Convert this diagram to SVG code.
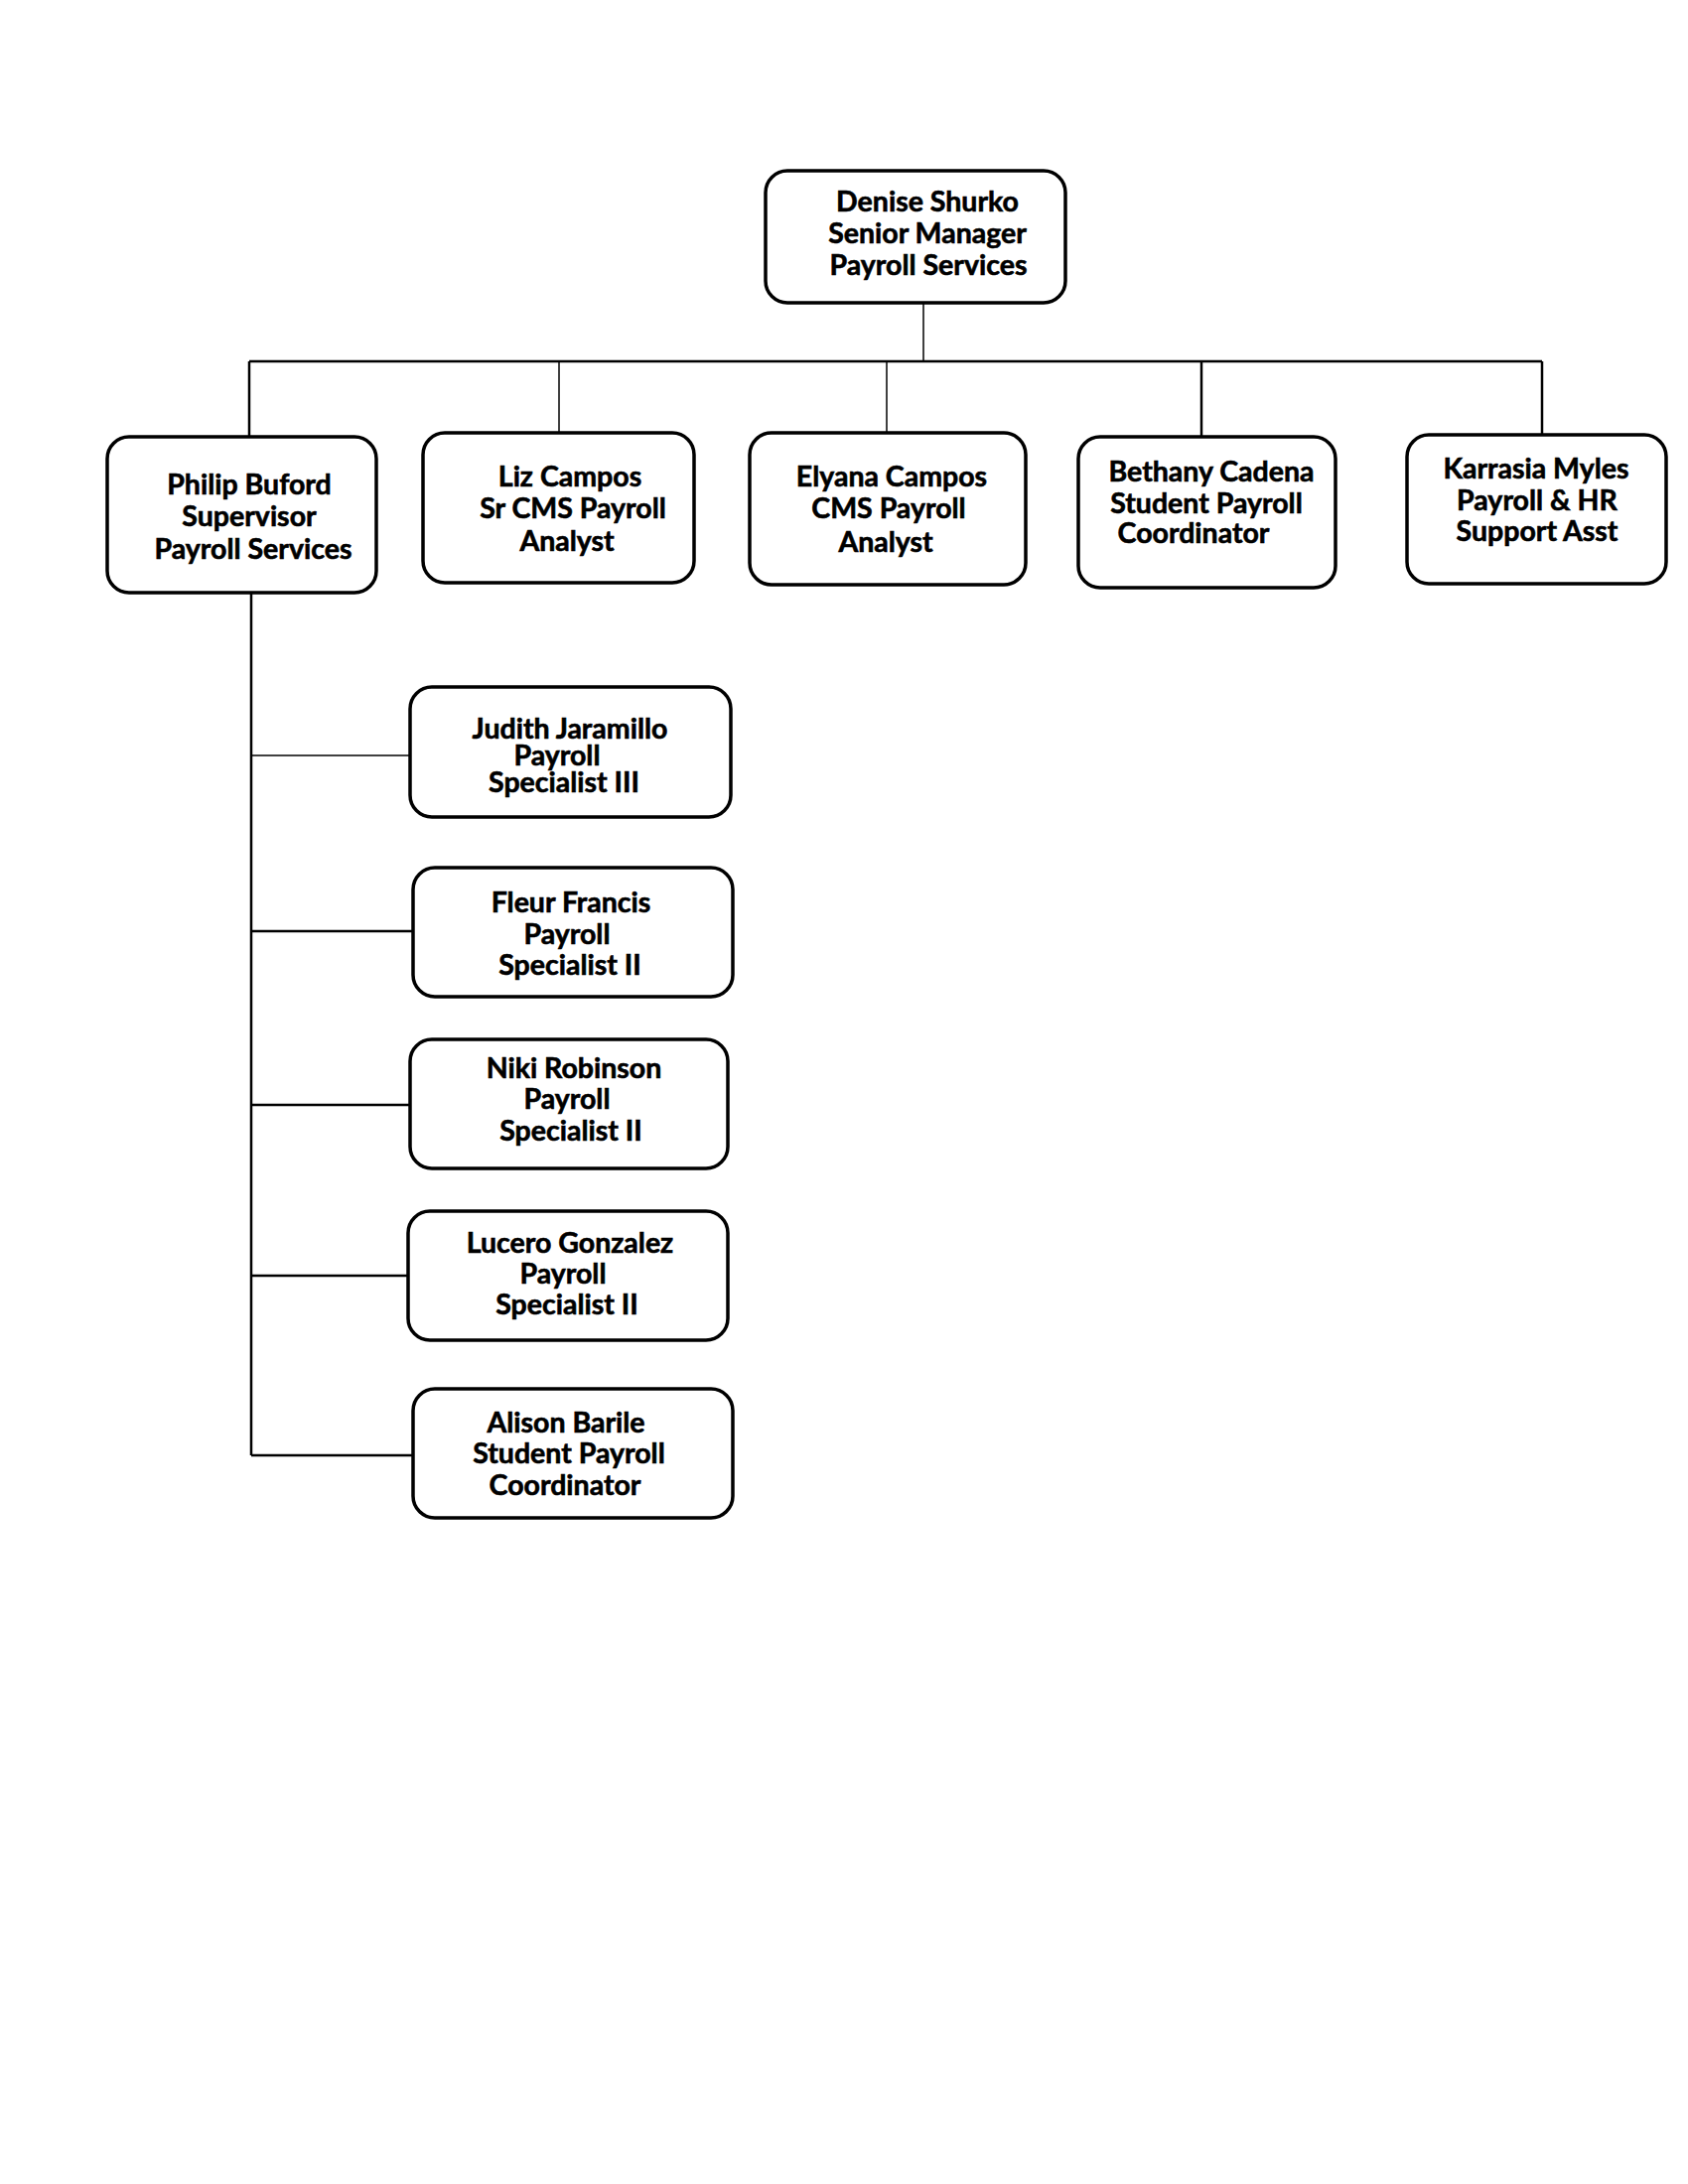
<svg xmlns="http://www.w3.org/2000/svg" width="1700" height="2200" viewBox="0 0 1700 2200">
<style>
.box{fill:#fff;stroke:#000;stroke-width:3.5}
.t{font-family:Lato,"Liberation Sans",sans-serif;font-weight:700;font-size:28.5px;fill:#000;stroke:#000;stroke-width:0.6;text-anchor:middle}
.c{stroke:#000;fill:none}
.thin{stroke-width:1.5}
.mid{stroke-width:2.5}
</style>
<rect width="1700" height="2200" fill="#fff"/>
<g id="connectors">
<line class="c thin" x1="930" y1="305" x2="930" y2="364"/>
<line class="c mid" x1="251" y1="364" x2="1553" y2="364"/>
<line class="c mid" x1="251" y1="364" x2="251" y2="440"/>
<line class="c thin" x1="563" y1="364" x2="563" y2="436"/>
<line class="c thin" x1="893" y1="364" x2="893" y2="436"/>
<line class="c mid" x1="1210" y1="364" x2="1210" y2="440"/>
<line class="c mid" x1="1553" y1="364" x2="1553" y2="438"/>
<line class="c mid" x1="253" y1="597" x2="253" y2="1466"/>
<line class="c thin" x1="253" y1="761" x2="413" y2="761"/>
<line class="c mid" x1="253" y1="938" x2="416" y2="938"/>
<line class="c mid" x1="253" y1="1113" x2="413" y2="1113"/>
<line class="c mid" x1="253" y1="1285" x2="411" y2="1285"/>
<line class="c mid" x1="253" y1="1466" x2="416" y2="1466"/>
</g>
<g id="denise">
<rect class="box" x="771" y="172" width="302" height="133" rx="22"/>
<text class="t" x="934" y="213">Denise Shurko</text>
<text class="t" x="934" y="245">Senior Manager</text>
<text class="t" x="935" y="277">Payroll Services</text>
</g>
<g id="philip">
<rect class="box" x="108" y="440" width="271" height="157" rx="22"/>
<text class="t" x="251" y="498">Philip Buford</text>
<text class="t" x="251" y="530">Supervisor</text>
<text class="t" x="255" y="563">Payroll Services</text>
</g>
<g id="liz">
<rect class="box" x="426" y="436" width="273" height="151" rx="22"/>
<text class="t" x="574" y="490">Liz Campos</text>
<text class="t" x="577" y="522">Sr CMS Payroll</text>
<text class="t" x="571" y="555">Analyst</text>
</g>
<g id="elyana">
<rect class="box" x="755" y="436" width="278" height="153" rx="22"/>
<text class="t" x="898" y="490">Elyana Campos</text>
<text class="t" x="895" y="522">CMS Payroll</text>
<text class="t" x="892" y="556">Analyst</text>
</g>
<g id="bethany">
<rect class="box" x="1086" y="440" width="259" height="152" rx="22"/>
<text class="t" x="1220" y="485">Bethany Cadena</text>
<text class="t" x="1215" y="517">Student Payroll</text>
<text class="t" x="1202" y="547">Coordinator</text>
</g>
<g id="karrasia">
<rect class="box" x="1417" y="438" width="261" height="150" rx="22"/>
<text class="t" x="1547" y="482">Karrasia Myles</text>
<text class="t" x="1548" y="514">Payroll &amp; HR</text>
<text class="t" x="1548" y="545">Support Asst</text>
</g>
<g id="judith">
<rect class="box" x="413" y="692" width="323" height="131" rx="22"/>
<text class="t" x="574" y="744">Judith Jaramillo</text>
<text class="t" x="561" y="771">Payroll</text>
<text class="t" x="568" y="798">Specialist III</text>
</g>
<g id="fleur">
<rect class="box" x="416" y="874" width="322" height="130" rx="22"/>
<text class="t" x="575" y="919">Fleur Francis</text>
<text class="t" x="571" y="951">Payroll</text>
<text class="t" x="574" y="982">Specialist II</text>
</g>
<g id="niki">
<rect class="box" x="413" y="1047" width="320" height="130" rx="22"/>
<text class="t" x="578" y="1086">Niki Robinson</text>
<text class="t" x="571" y="1117">Payroll</text>
<text class="t" x="575" y="1149">Specialist II</text>
</g>
<g id="lucero">
<rect class="box" x="411" y="1220" width="322" height="130" rx="22"/>
<text class="t" x="574" y="1262">Lucero Gonzalez</text>
<text class="t" x="567" y="1293">Payroll</text>
<text class="t" x="571" y="1324">Specialist II</text>
</g>
<g id="alison">
<rect class="box" x="416" y="1399" width="322" height="130" rx="22"/>
<text class="t" x="570" y="1443">Alison Barile</text>
<text class="t" x="573" y="1474">Student Payroll</text>
<text class="t" x="569" y="1506">Coordinator</text>
</g>
</svg>
